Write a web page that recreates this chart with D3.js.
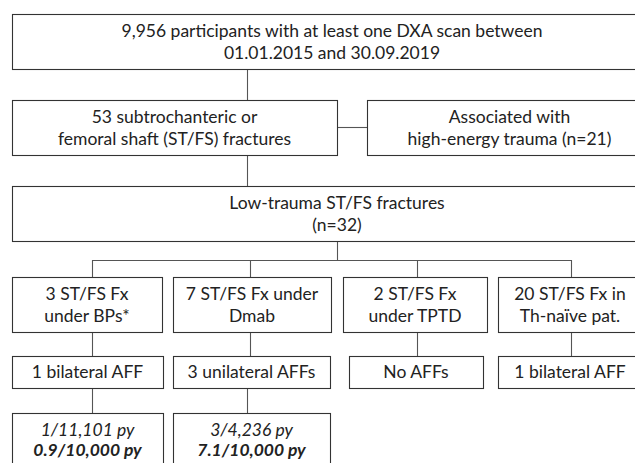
<!DOCTYPE html>
<html><head><meta charset="utf-8">
<script src="https://cdn.jsdelivr.net/npm/d3@7"></script>
<style>
html,body{margin:0;padding:0;background:#fff;}
svg{display:block;}
text{font-family:Lato,"Open Sans",sans-serif;fill:#222;}
</style></head>
<body>
<svg id="chart" width="635" height="463"></svg>
<script>
// ---- data: box texts ----
const topLabels = ["9,956 participants with at least one DXA scan between", "01.01.2015 and 30.09.2019"];
const stfsLabels = ["53 subtrochanteric or", "femoral shaft (ST/FS) fractures"];
const excludedLabels = ["Associated with", "high-energy trauma (n=21)"];
const lowTraumaLabels = ["Low-trauma ST/FS fractures", "(n=32)"];
const groupLabels = [
  ["3 ST/FS Fx", "under BPs*"],
  ["7 ST/FS Fx under", "Dmab"],
  ["2 ST/FS Fx", "under TPTD"],
  ["20 ST/FS Fx in", "Th-naïve pat."]
];
const affLabels = ["1 bilateral AFF", "3 unilateral AFFs", "No AFFs", "1 bilateral AFF"];
const rateLabels = [
  ["1/11,101 py", "0.9/10,000 py"],
  ["3/4,236 py", "7.1/10,000 py"]
];

// ---- layout ----
const svg = d3.select("#chart");
const boxStroke = "#333", lineStroke = "#555";
const fs = 17.5;

function box(x0, y0, x1, y1, lines, styles, baselines) {
  svg.append("rect").attr("x", x0 + 0.5).attr("y", y0 + 0.5)
    .attr("width", x1 - x0).attr("height", y1 - y0)
    .attr("fill", "#fff").attr("stroke", boxStroke).attr("stroke-width", 1.1);
  const cx = (x0 + x1) / 2;
  lines.forEach((t, i) => {
    const tx = svg.append("text").attr("x", cx).attr("y", baselines[i])
      .attr("text-anchor", "middle").attr("font-size", fs).text(t);
    if (styles && styles[i]) {
      if (styles[i].includes("i")) tx.attr("font-style", "italic");
      if (styles[i].includes("b")) tx.attr("font-weight", "bold");
    }
  });
}
function line(pts) {
  svg.append("path").attr("d", d3.line()(pts.map(p => [p[0] + 0.5, p[1] + 0.5])))
    .attr("fill", "none").attr("stroke", lineStroke).attr("stroke-width", 1.1);
}

// connectors
line([[247, 69], [247, 100]]);
line([[337, 127], [367, 127]]);
line([[247, 155], [247, 186]]);
line([[337, 241], [337, 260]]);
const colX = [92, 250, 417, 571];
line([[colX[0], 277], [colX[0], 260], [colX[3], 260], [colX[3], 277]]);
line([[colX[1], 260], [colX[1], 277]]);
line([[colX[2], 260], [colX[2], 277]]);
colX.forEach(x => line([[x, 332], [x, 356]]));
[0, 1].forEach(i => line([[colX[i] - (i ? 3 : 0), 388], [colX[i] - (i ? 3 : 0), 413]]));

// boxes
box(12, 14, 652, 69, topLabels, null, [37, 59]);
box(12, 100, 337, 155, stfsLabels, null, [123, 145]);
box(367, 100, 652, 155, excludedLabels, null, [123, 145]);
box(12, 186, 662, 241, lowTraumaLabels, null, [209, 231]);

const cols = [[12, 162], [173, 331], [343, 487], [498, 642]];
cols.forEach((c, i) => box(c[0], 277, c[1], 332, groupLabels[i], null, [300, 322]));
const cols2 = [[12, 163], [173, 330], [349, 483], [498, 642]];
cols2.forEach((c, i) => box(c[0], 356, c[1], 388, [affLabels[i]], null, [378]));
rateLabels.forEach((r, i) => box(cols2[i][0], 413, cols2[i][1], 480, r, ["i", "bi"], [436, 456]));
</script>
</body></html>
